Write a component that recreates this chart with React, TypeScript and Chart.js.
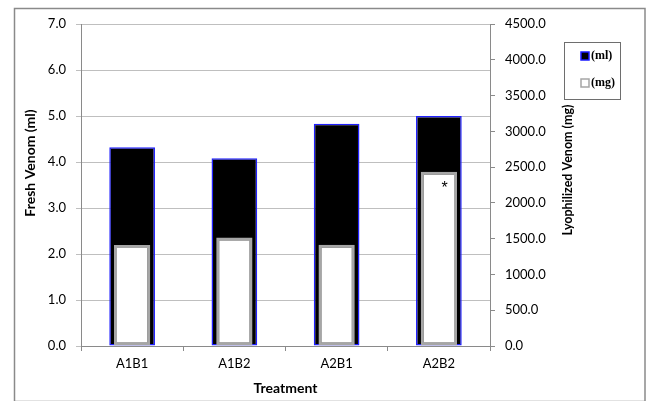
import React, { useEffect, useRef } from 'react';
import { Chart, registerables } from 'chart.js';

Chart.register(...registerables);

const categories = ['A1B1', 'A1B2', 'A2B1', 'A2B2'];
const freshVenomMl = [4.32, 4.08, 4.83, 5.0];
const lyophilizedMg = [1411, 1517, 1414, 2436];
const significance = ['', '', '', '*'];
const legendLabels = ['(ml)', '(mg)'];
const leftTitle = 'Fresh Venom (ml)';
const rightTitle = 'Lyophilized Venom (mg)';

const FAMILY = 'Lato, "Open Sans", sans-serif';
const TICK_FONT = { family: FAMILY, size: 13 };
const TITLE_FONT = { family: FAMILY, size: 14, weight: 'bold' as const };

const framePlugin = {
  id: 'frame',
  beforeDraw(chart: any) {
    const ctx = chart.ctx;
    ctx.save();
    ctx.fillStyle = '#ffffff';
    ctx.fillRect(0, 0, chart.width, chart.height);
    ctx.strokeStyle = '#8a8a8a';
    ctx.lineWidth = 1.5;
    ctx.strokeRect(14.5, 8.5, 630.5, 393);
    ctx.restore();
  },
  afterDraw(chart: any) {
    const ctx = chart.ctx;
    ctx.save();
    ctx.fillStyle = '#000';
    ctx.textAlign = 'center';
    ctx.textBaseline = 'middle';
    ctx.save();
    ctx.translate(30, 163);
    ctx.rotate(-Math.PI / 2);
    ctx.font = `bold 14px ${FAMILY}`;
    ctx.fillText(leftTitle, 0, 0);
    ctx.restore();
    ctx.save();
    ctx.translate(568, 170);
    ctx.rotate(-Math.PI / 2);
    ctx.font = `bold 12.5px ${FAMILY}`;
    ctx.fillText(rightTitle, 0, 0);
    ctx.restore();

    const meta = chart.getDatasetMeta(0);
    ctx.font = '16px "Liberation Sans", sans-serif';
    ctx.textAlign = 'center';
    ctx.textBaseline = 'top';
    meta.data.forEach((bar: any, i: number) => {
      if (significance[i]) {
        const w = bar.width;
        ctx.fillText(significance[i], bar.x + w * 0.16, bar.y + 9);
      }
    });
    const lx = 564, ly = 42, lw = 56, lh = 57;
    ctx.strokeStyle = '#6e6e6e';
    ctx.lineWidth = 1;
    ctx.strokeRect(lx + 0.5, ly + 0.5, lw, lh);
    ctx.font = 'bold 12px "Liberation Serif", serif';
    ctx.textAlign = 'left';
    ctx.textBaseline = 'middle';
    const items = [
      { fill: '#000000', stroke: '#1a1aff', y: ly + 14 },
      { fill: '#ffffff', stroke: '#a6a6a6', y: ly + 41 },
    ];
    items.forEach((it, i) => {
      ctx.fillStyle = it.fill;
      ctx.fillRect(lx + 17, it.y - 4, 8, 8);
      ctx.strokeStyle = it.stroke;
      ctx.lineWidth = 1.5;
      ctx.strokeRect(lx + 17, it.y - 4, 8, 8);
      ctx.fillStyle = '#000';
      ctx.fillText(legendLabels[i], lx + 27, it.y);
    });
    ctx.restore();
  },
};

export default function App() {
  const ref = useRef<HTMLCanvasElement | null>(null);
  useEffect(() => {
    document.body.style.margin = '0';
    const canvas = ref.current;
    if (!canvas) return;
    const chart = new Chart(canvas, {
      type: 'bar',
      data: {
        labels: categories,
        datasets: [
          {
            label: '(mg)',
            data: lyophilizedMg,
            yAxisID: 'y1',
            backgroundColor: '#ffffff',
            borderColor: '#a6a6a6',
            borderWidth: 3,
            borderSkipped: false,
            barPercentage: 0.355,
            categoryPercentage: 1,
            grouped: false,
            order: 0,
          },
          {
            label: '(ml)',
            data: freshVenomMl,
            yAxisID: 'y',
            backgroundColor: '#000000',
            borderColor: '#2020ff',
            borderWidth: 1.5,
            borderSkipped: false,
            barPercentage: 0.447,
            categoryPercentage: 1,
            grouped: false,
            order: 1,
          },
        ],
      },
      options: {
        animation: false,
        responsive: false,
        maintainAspectRatio: false,
        layout: { padding: { left: 14, right: 71, top: 24, bottom: 0 } },
        plugins: { legend: { display: false }, tooltip: { enabled: false } },
        scales: {
          x: {
            offset: true,
            grid: { offset: true, drawOnChartArea: false, drawTicks: true, tickLength: 5, color: '#8a8a8a' },
            border: { display: true, color: '#8a8a8a' },
            ticks: { font: TICK_FONT, color: '#000', padding: 5 },
            title: { display: true, text: 'Treatment', font: TITLE_FONT, color: '#000', padding: { top: 4, bottom: 4 } },
            afterFit: (s: any) => { s.height = 55; },
          },
          y: {
            position: 'left',
            min: 0,
            max: 7,
            ticks: { stepSize: 1, font: TICK_FONT, color: '#000', padding: 10, callback: (v: any) => Number(v).toFixed(1) },
            grid: { color: '#bfbfbf', tickLength: 5, lineWidth: 1 },
            border: { display: true, color: '#8a8a8a' },
            title: { display: false, text: leftTitle },
            afterFit: (s: any) => { s.width = 67; },
          },
          y1: {
            position: 'right',
            min: 0,
            max: 4500,
            ticks: { stepSize: 500, font: TICK_FONT, color: '#000', padding: 10, callback: (v: any) => Number(v).toFixed(1) },
            grid: { drawOnChartArea: false, tickLength: 5, color: '#8a8a8a' },
            border: { display: true, color: '#8a8a8a' },
            title: { display: false, text: rightTitle },
            afterFit: (s: any) => { s.width = 86; },
          },
        },
      },
      plugins: [framePlugin],
    });
    return () => chart.destroy();
  }, []);
  return (
    <div style={{ width: 647, height: 401, position: 'relative' }}>
      <canvas ref={ref} width={647} height={401} style={{ width: 647, height: 401, display: 'block' }} />
    </div>
  );
}
